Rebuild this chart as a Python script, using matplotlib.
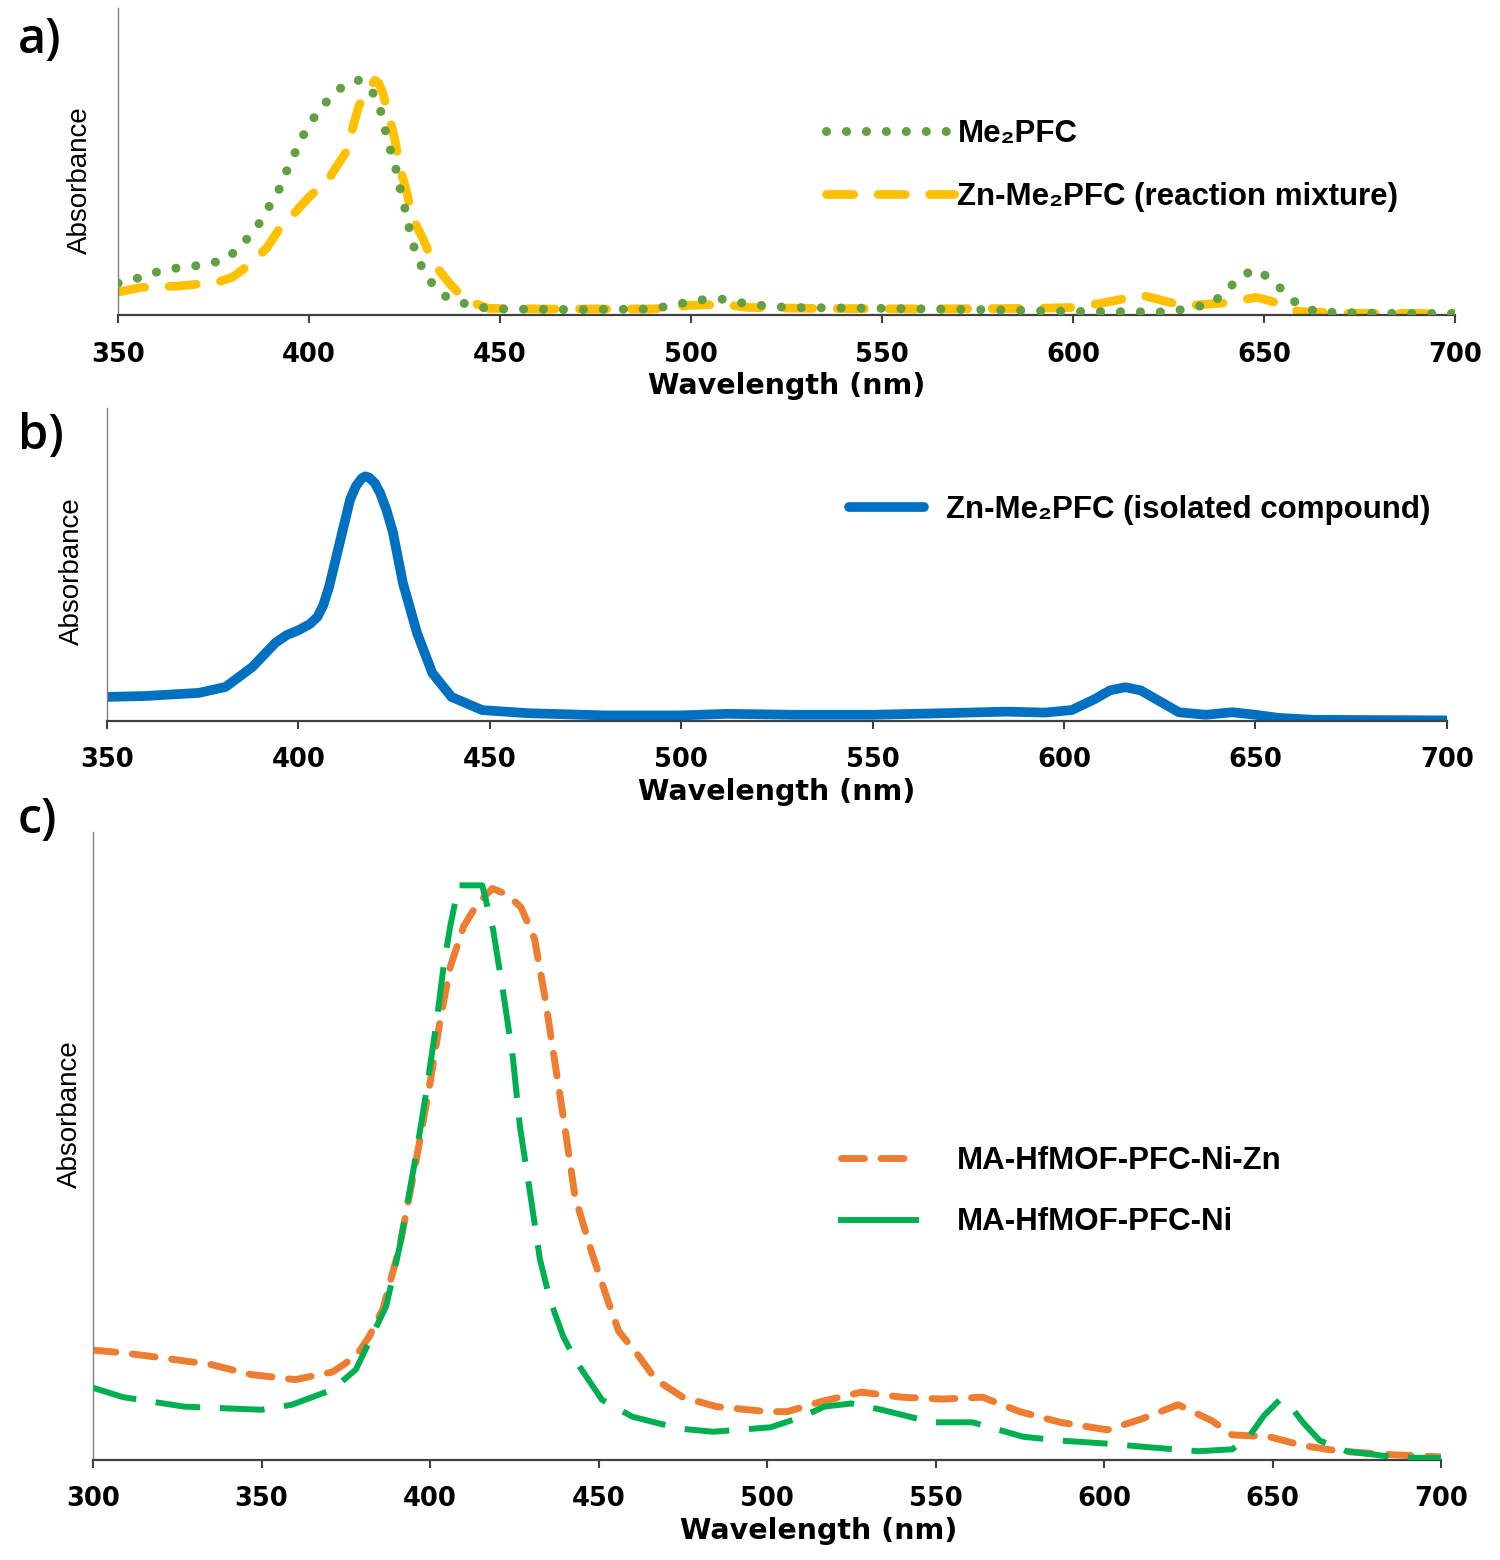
import matplotlib
matplotlib.use("Agg")
import matplotlib.pyplot as plt
from matplotlib.lines import Line2D

# ---- data (arbitrary absorbance units, 0 = x axis, 1 = top of plot area) ----
# a) Me2PFC (dotted green) and Zn-Me2PFC reaction mixture (dashed yellow)
wl_a_me2 = [350, 355, 360, 366, 372, 378, 382, 385, 388, 390, 392.5, 394, 396, 398,
            400, 403, 406, 410, 413, 415.5, 417.5, 419, 420, 421, 422.5, 423.5, 424.6,
            425.6, 426.5, 427.7, 429.5, 432, 435, 440, 445, 450, 470, 490, 497, 503,
            509, 515, 525, 550, 575, 600, 625, 636, 640, 643, 647.5, 652, 655.5, 659,
            664, 680, 700]
abs_a_me2 = [0.104, 0.12, 0.14, 0.155, 0.163, 0.18, 0.222, 0.267, 0.316, 0.365, 0.417,
             0.466, 0.52, 0.574, 0.622, 0.671, 0.717, 0.756, 0.765, 0.745, 0.71, 0.655,
             0.6, 0.55, 0.49, 0.43, 0.375, 0.32, 0.267, 0.212, 0.157, 0.107, 0.065,
             0.04, 0.025, 0.02, 0.018, 0.02, 0.037, 0.05, 0.052, 0.035, 0.025, 0.022,
             0.018, 0.012, 0.01, 0.036, 0.075, 0.117, 0.15, 0.117, 0.072, 0.033, 0.01,
             0.006, 0.005]
wl_a_zn = [350, 356, 366, 376, 380, 385, 389, 392, 396, 400, 405, 407, 410, 411.5, 413,
           414.5, 416, 417.3, 418.3, 419.4, 421, 422.5, 423.8, 425.6, 427, 430, 432.5,
           437, 441, 447, 460, 490, 500, 508, 515, 530, 560, 590, 600, 608, 618, 629,
           640, 648, 652, 659, 670, 700]
abs_a_zn = [0.075, 0.09, 0.095, 0.107, 0.124, 0.17, 0.22, 0.277, 0.33, 0.385, 0.44, 0.48,
            0.537, 0.613, 0.68, 0.715, 0.745, 0.765, 0.755, 0.72, 0.645, 0.57, 0.48, 0.4,
            0.32, 0.244, 0.17, 0.1, 0.049, 0.022, 0.02, 0.02, 0.032, 0.035, 0.025, 0.022,
            0.02, 0.022, 0.025, 0.04, 0.065, 0.03, 0.04, 0.058, 0.045, 0.012, 0.006, 0.005]

# b) Zn-Me2PFC isolated compound
wl_b = [350, 360, 374, 381, 388, 394, 397, 400, 403, 405, 406.5, 408, 411, 413.5, 415,
        416.5, 417.5, 418.5, 420, 421.3, 423, 424.7, 427.3, 431, 435, 440, 448, 460, 480,
        500, 512, 530, 550, 565, 585, 595, 602, 608, 612, 616, 620, 624, 630, 637, 644,
        650, 656, 665, 700]
abs_b = [0.077, 0.08, 0.09, 0.109, 0.173, 0.25, 0.275, 0.29, 0.31, 0.333, 0.37, 0.428,
         0.58, 0.707, 0.75, 0.775, 0.782, 0.778, 0.76, 0.73, 0.675, 0.603, 0.441, 0.281,
         0.153, 0.077, 0.035, 0.025, 0.018, 0.018, 0.023, 0.02, 0.02, 0.024, 0.03, 0.027,
         0.035, 0.07, 0.098, 0.108, 0.098, 0.07, 0.028, 0.02, 0.028, 0.02, 0.01, 0.004,
         0.002]

# c) MA-HfMOF-PFC-Ni-Zn (orange) and MA-HfMOF-PFC-Ni (green)
wl_c_nizn = [300, 310, 320, 335, 347, 360, 371, 378, 382, 386, 391, 396, 400, 403, 406,
             410, 414, 418.5, 423, 427, 431, 434, 437, 440, 443, 448, 453, 456, 462, 467,
             475, 485, 500, 506, 516, 528, 540, 552, 564, 575, 587, 601, 611, 622, 632,
             638, 649, 659, 670, 685, 700]
abs_c_nizn = [0.175, 0.17, 0.163, 0.152, 0.136, 0.128, 0.14, 0.165, 0.197, 0.24, 0.34,
              0.48, 0.6, 0.7, 0.785, 0.85, 0.885, 0.91, 0.9, 0.88, 0.83, 0.74, 0.635,
              0.53, 0.42, 0.33, 0.25, 0.205, 0.165, 0.128, 0.1, 0.085, 0.077, 0.077,
              0.093, 0.108, 0.1, 0.097, 0.1, 0.077, 0.06, 0.048, 0.065, 0.088, 0.0625,
              0.04, 0.037, 0.023, 0.014, 0.0085, 0.005]
wl_c_ni = [300, 309, 327, 350, 359, 371, 378, 383, 387, 391, 396, 399, 402, 404, 406,
           408.5, 412, 415.5, 418.7, 421.7, 424.6, 426.7, 429.7, 432.6, 435.6, 439.5,
           443.6, 451, 460, 474, 484, 501, 510, 517, 525, 534, 549, 561, 576, 587, 601,
           614, 628, 638, 643, 647.5, 652, 655, 659, 664, 672, 687, 700]
abs_c_ni = [0.115, 0.1, 0.085, 0.08, 0.088, 0.112, 0.144, 0.2, 0.245, 0.34, 0.49, 0.59,
            0.7, 0.785, 0.85, 0.915, 0.915, 0.915, 0.845, 0.745, 0.64, 0.53, 0.425, 0.32,
            0.255, 0.197, 0.155, 0.096, 0.069, 0.05, 0.045, 0.052, 0.068, 0.085, 0.09,
            0.08, 0.06, 0.06, 0.037, 0.031, 0.026, 0.02, 0.014, 0.017, 0.037, 0.071,
            0.095, 0.088, 0.06, 0.031, 0.014, 0.004, 0.003]

TICK_FONT = "DejaVu Sans"
LEGEND_FONT = ["Liberation Sans", "DejaVu Sans"]
YLABEL_FONT = ["Liberation Sans", "DejaVu Sans"]


def style_axes(ax, xmin, xmax, ylabel_x, ylabel_y, xlabel_x=0.5):
    ax.set_xlim(xmin, xmax)
    ax.set_ylim(0, 1)
    for side in ("top", "right"):
        ax.spines[side].set_visible(False)
    ax.spines["bottom"].set_color("#404040")
    ax.spines["bottom"].set_linewidth(1.6)
    ax.spines["left"].set_color("#808080")
    ax.spines["left"].set_linewidth(1.0)
    ax.set_xticks(range(xmin, xmax + 1, 50))
    ax.set_yticks([])
    ax.tick_params(axis="x", direction="out", length=6, width=1.5, color="#404040",
                   pad=13, labelsize=18.5)
    for lab in ax.get_xticklabels():
        lab.set_fontweight("bold")
        lab.set_fontfamily(TICK_FONT)
    ax.set_xlabel("Wavelength (nm)", fontsize=20.5, fontweight="bold",
                  family=TICK_FONT, labelpad=3)
    ax.xaxis.label.set_x(xlabel_x)
    ax.set_ylabel("Absorbance", fontsize=20, family=YLABEL_FONT)
    ax.yaxis.set_label_coords(ylabel_x, ylabel_y)


fig = plt.figure(figsize=(15, 15.6), dpi=100)
legend_prop = {"family": LEGEND_FONT, "weight": "bold", "size": 22.5}

# ---- panel a ----
ax_a = fig.add_axes([0.0787, 0.798, 0.8913, 0.1968])
ax_a.plot(wl_a_me2, abs_a_me2, color="#62A043", lw=6.5, linestyle=(0, (0.01, 2.2)),
          dash_capstyle="round", label="Me₂PFC", zorder=3)
ax_a.plot(wl_a_zn, abs_a_zn, color="#FFC000", lw=6.3, linestyle=(0, (3.1, 2.8)),
          dash_capstyle="round", solid_joinstyle="round",
          label="Zn-Me₂PFC (reaction mixture)", zorder=2)
style_axes(ax_a, 350, 700, -0.019, 0.44)
ax_a.legend(loc="center left", bbox_to_anchor=(0.532, 0.894), bbox_transform=fig.transFigure,
            frameon=False, handlelength=4.1, handletextpad=0.1, labelspacing=1.05,
            prop=legend_prop)

# ---- panel b ----
ax_b = fig.add_axes([0.0713, 0.5378, 0.8933, 0.2006])
ax_b.plot(wl_b, abs_b, color="#0070C0", lw=7, solid_capstyle="round",
          solid_joinstyle="round", label="Zn-Me₂PFC (isolated compound)")
style_axes(ax_b, 350, 700, -0.0164, 0.48)
ax_b.legend(loc="center left", bbox_to_anchor=(0.547, 0.673), bbox_transform=fig.transFigure,
            frameon=False, handlelength=2.4, handletextpad=0.7, prop=legend_prop)

# ---- panel c ----
ax_c = fig.add_axes([0.062, 0.0641, 0.8987, 0.4026])
ax_c.plot(wl_c_nizn, abs_c_nizn, color="#ED7D31", lw=5, linestyle=(0, (3.3, 2.4)),
          dash_capstyle="round", zorder=2)
ax_c.plot(wl_c_ni, abs_c_ni, color="#00B050", lw=4.3, linestyle=(0, (7.5, 3.3)), zorder=3)
style_axes(ax_c, 300, 700, -0.0074, 0.55, xlabel_x=0.5386)
handles_c = [
    Line2D([], [], color="#ED7D31", lw=5, linestyle=(0, (3.3, 2.4)), dash_capstyle="round"),
    Line2D([], [], color="#00B050", lw=4.3),
]
ax_c.legend(handles_c, ["MA-HfMOF-PFC-Ni-Zn", "MA-HfMOF-PFC-Ni"], loc="center left",
            bbox_to_anchor=(0.542, 0.236), bbox_transform=fig.transFigure,
            frameon=False, handlelength=2.4, handletextpad=1.3, labelspacing=1.0,
            prop=legend_prop)

# panel letters
for txt, y in (("a)", 0.974), ("b)", 0.72), ("c)", 0.474)):
    fig.text(0.012, y, txt, fontsize=35, family=["Open Sans", "DejaVu Sans"],
             fontweight="semibold", va="center", ha="left")

fig.savefig("out.png", dpi=100)
